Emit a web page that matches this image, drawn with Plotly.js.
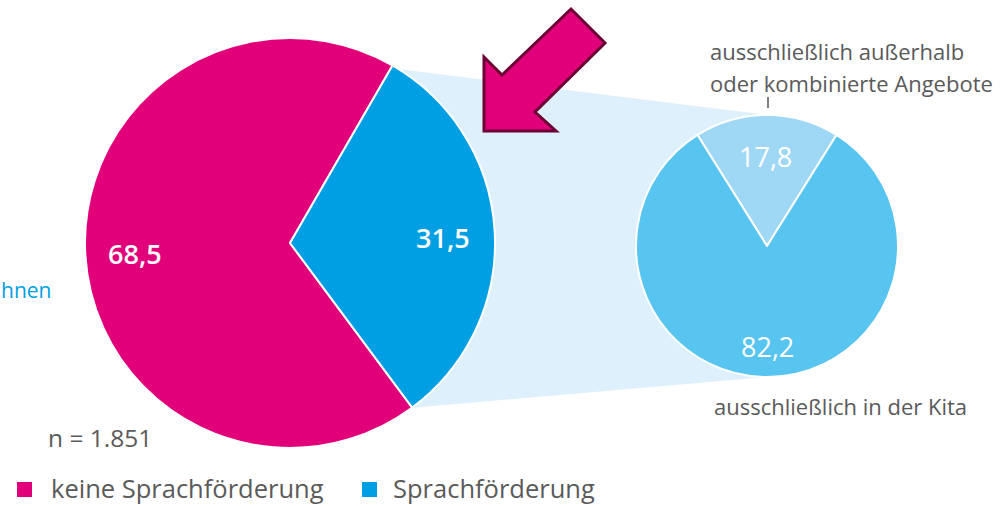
<!DOCTYPE html>
<html><head><meta charset="utf-8">
<script src="https://cdn.plot.ly/plotly-3.0.1.min.js"></script>
<style>html,body{margin:0;padding:0;background:#fff;}#chart{width:1007px;height:506px;}</style>
</head><body><div id="chart"></div>
<script>
// Data
const mainLabels = ['keine Sprachförderung', 'Sprachförderung'];
const mainValues = [68.5, 31.5];
const subLabels = ['ausschließlich außerhalb oder kombinierte Angebote', 'ausschließlich in der Kita'];
const subValues = [17.8, 82.2];
const sampleNote = 'n = 1.851';
const cutText = 'hnen';

const W = 1007, H = 506;
const px = x => x / W;
const py = y => 1 - y / H;
const fmt = v => v.toFixed(1).replace('.', ',');
const FONT = 'Open Sans, Noto Sans, sans-serif';
const GREY = '#5a5a5a';
const mainColors = ['#e2007a', '#009fe3'];
const subColors = ['#9fd8f4', '#57c5ef'];

const mainTotal = mainValues[0] + mainValues[1];
const leftPie = {
  type: 'pie', values: mainValues, labels: mainLabels, sort: false,
  direction: 'clockwise', rotation: 30 + mainValues[1] / mainTotal * 360,
  marker: {colors: mainColors, line: {color: '#ffffff', width: 2}},
  textinfo: 'none', hoverinfo: 'label+value', showlegend: false,
  domain: {x: [px(85), px(495)], y: [py(448), py(38)]}
};
const subFirstSpan = subValues[0] / (subValues[0] + subValues[1]) * 360;
const rightPie = {
  type: 'pie', values: subValues, labels: subLabels, sort: false,
  direction: 'clockwise', rotation: -subFirstSpan / 2,
  marker: {colors: subColors, line: {color: '#ffffff', width: 2}},
  textinfo: 'none', hoverinfo: 'label+value', showlegend: false,
  domain: {x: [px(636), px(898)], y: [py(377), py(115)]}
};

function pathFromPts(pts) {
  return 'M' + pts.map(p => px(p[0]) + ',' + py(p[1])).join(' L') + ' Z';
}

const shapes = [
  {type: 'path', xref: 'paper', yref: 'paper', layer: 'below',
   path: pathFromPts([[390, 68], [768, 115], [768, 377], [410, 408]]),
   fillcolor: '#ddf0fb', line: {width: 0}},
  {type: 'path', xref: 'paper', yref: 'paper', layer: 'above',
   path: pathFromPts([[484, 131], [484, 57], [502, 75], [571, 9], [605, 43], [535, 112], [556, 131]]),
   fillcolor: '#e2007a', line: {color: '#6b0035', width: 3}},
  {type: 'line', xref: 'paper', yref: 'paper', x0: px(768), x1: px(768), y0: py(97), y1: py(108),
   line: {color: '#555555', width: 1.5}},
  {type: 'rect', xref: 'paper', yref: 'paper', x0: px(17), x1: px(32), y0: py(497), y1: py(482),
   fillcolor: mainColors[0], line: {width: 0}},
  {type: 'rect', xref: 'paper', yref: 'paper', x0: px(362), x1: px(377), y0: py(497), y1: py(482),
   fillcolor: mainColors[1], line: {width: 0}}
];

function ann(text, x, y, size, color, opts) {
  return Object.assign({text: text, x: px(x), y: py(y), xref: 'paper', yref: 'paper',
    showarrow: false, xanchor: 'center', yanchor: 'middle',
    font: {family: FONT, size: size, color: color}}, opts || {});
}

const annotations = [
  ann(fmt(mainValues[0]), 135, 253, 27, '#fff', {font: {family: FONT, size: 27, color: '#fff', weight: 600}}),
  ann(fmt(mainValues[1]), 443, 238, 27, '#fff', {font: {family: FONT, size: 27, color: '#fff', weight: 600}}),
  ann(fmt(subValues[0]), 765, 156, 27, '#fff'),
  ann(fmt(subValues[1]), 767, 346, 27, '#fff'),
  ann('ausschließlich außerhalb', 708, 51, 22, GREY, {xanchor: 'left'}),
  ann('oder kombinierte Angebote', 708, 83, 22, GREY, {xanchor: 'left'}),
  ann(subLabels[1], 712, 406, 22, GREY, {xanchor: 'left'}),
  ann(sampleNote, 46, 437, 24.5, GREY, {xanchor: 'left'}),
  ann(cutText, 0, 290, 21, '#009fe3', {xanchor: 'left', xshift: -1}),
  ann(mainLabels[0], 49, 488, 25.5, GREY, {xanchor: 'left'}),
  ann(mainLabels[1], 391, 488, 25.5, GREY, {xanchor: 'left'})
];

const layout = {
  width: W, height: H, margin: {l: 0, r: 0, t: 0, b: 0},
  paper_bgcolor: '#ffffff', plot_bgcolor: '#ffffff',
  showlegend: false, shapes: shapes, annotations: annotations,
  font: {family: FONT, color: GREY}
};
Plotly.newPlot('chart', [leftPie, rightPie], layout, {displayModeBar: false, staticPlot: true});
</script></body></html>
